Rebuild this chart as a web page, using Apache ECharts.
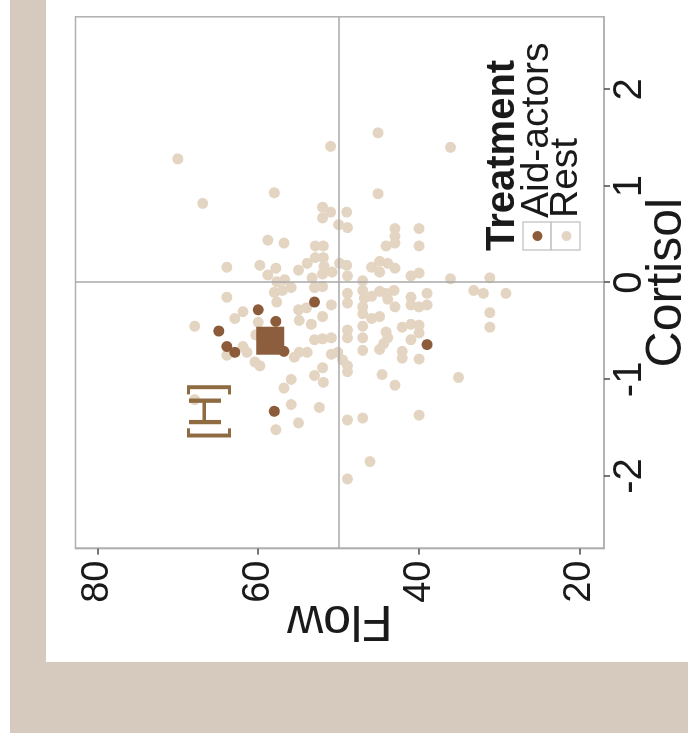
<!DOCTYPE html>
<html>
<head>
<meta charset="utf-8">
<script src="https://cdn.jsdelivr.net/npm/echarts@6/dist/echarts.min.js"></script>
<style>
  html, body { margin: 0; padding: 0; width: 688px; height: 751px; overflow: hidden; background: #ffffff; position: relative; }
  #frame { position: absolute; left: 10px; top: 0; width: 678px; height: 733px; background: #D6C9BE; }
  #panel { position: absolute; left: 46px; top: 0; width: 642px; height: 662px; background: #ffffff; }
  /* the figure is laid out upright, then turned a quarter turn counter-clockwise */
  #chart { position: absolute; left: 0; top: 0; width: 751px; height: 688px;
           transform-origin: 0 0; transform: translate(0px, 751px) rotate(-90deg); }
</style>
</head>
<body>
<div id="frame"></div>
<div id="panel"></div>
<div id="chart"></div>
<script>
// tick labels
const cortisolTicks = [-2, -1, 0, 1, 2];
const flowTicks = [20, 40, 60, 80];

// participants at rest
const restCortisol = [1.28,0.82,0.93,1.41,1.55,1.40,0.92,0.78,0.73,0.67,0.73,0.60,0.57,0.56,0.48,0.56,0.44,0.41,0.38,0.38,0.38,0.41,0.38,0.16,0.18,0.15,0.08,0.13,0.20,0.26,0.26,0.09,0.05,0.11,0.20,0.18,0.07,0.16,0.22,0.20,0.11,0.15,0.02,0.07,0.10,0.04,0.05,0.17,0.01,0.03,-0.10,-0.08,-0.05,-0.05,-0.04,-0.11,-0.08,-0.16,-0.14,-0.09,-0.11,-0.17,-0.08,-0.15,-0.20,-0.25,-0.15,-0.23,-0.25,-0.23,-0.11,-0.08,-0.11,-0.11,-0.31,-0.46,-0.25,-0.32,-0.37,-0.35,-0.30,-0.37,-0.41,-0.28,-0.26,-0.39,-0.43,-0.35,-0.23,-0.21,-0.45,-0.59,-0.58,-0.57,-0.49,-0.57,-0.45,-0.57,-0.70,-0.51,-0.57,-0.63,-0.69,-0.46,-0.43,-0.44,-0.52,-0.59,-0.71,-0.78,-0.79,-0.77,-0.72,-0.72,-0.74,-0.75,-0.66,-0.72,-0.82,-0.86,-0.72,-0.80,-0.86,-0.92,-0.88,-0.96,-1.03,-1.00,-1.09,-0.95,-1.06,-0.98,-1.26,-1.29,-1.45,-1.52,-1.42,-1.40,-1.37,-1.85,-2.03,-1.21,-0.54];
const restFlow = [70.0,66.9,58.0,51.0,45.1,36.1,45.1,52.0,51.0,52.0,49.0,50.0,48.9,43.0,43.0,40.0,58.8,56.8,52.9,51.9,44.1,43.0,40.0,63.9,59.8,57.8,58.8,55.0,53.9,52.9,51.9,52.0,53.3,50.8,49.9,49.0,48.9,45.9,44.9,43.9,44.9,43.0,47.0,41.0,40.0,36.1,31.2,51.8,57.7,56.7,58.0,57.0,55.9,53.0,52.0,48.9,47.0,46.8,45.9,44.9,44.1,43.9,43.1,63.9,57.7,43.0,41.0,41.0,40.0,39.0,39.0,33.2,32.0,29.2,31.2,31.2,47.0,47.0,45.9,44.9,61.9,62.9,60.0,55.0,54.0,54.9,53.4,52.0,50.9,48.9,67.9,53.0,52.0,50.9,48.9,48.9,47.0,47.0,47.0,44.1,43.9,44.4,44.9,42.1,41.0,40.0,40.0,41.0,42.1,42.1,40.0,55.5,54.9,53.9,50.9,63.9,61.9,61.4,60.4,59.8,50.1,49.5,48.9,48.9,52.0,53.0,51.9,55.9,56.8,44.6,43.0,35.1,55.9,52.4,55.0,57.8,48.9,47.0,40.0,46.1,48.9,67.9,60.3];

// aid-actors
const aidCortisol = [-0.28,-0.40,-0.20,-0.50,-0.66,-0.72,-0.71,-0.64,-1.33];
const aidFlow = [60.0,57.8,53.0,64.9,63.9,62.9,56.8,39.0,58.0];

// aid-actor group centre
const aidCentre = [-0.60, 58.5];

// hypothesis marker
const noteText = '[H]';
const notePos = [-1.33, 66.2];

const zip = (a, b) => a.map((v, i) => [v, b[i]]);

const FONT = '"Liberation Sans", Arial, Helvetica, sans-serif';
const INK = '#1a1a1a';
const FRAME = '#B0B0B0';
const TICK = '#4a4a4a';

const chart = echarts.init(document.getElementById('chart'), null, { renderer: 'canvas' });

chart.setOption({
  backgroundColor: 'transparent',
  animation: false,
  title: {
    text: 'Treatment', left: 500, top: 483, padding: 0,
    textStyle: { fontFamily: FONT, fontSize: 40, fontWeight: 'bold', color: INK }
  },
  legend: {
    orient: 'vertical', left: 510, top: 518, padding: 0,
    itemWidth: 10, itemHeight: 10, itemGap: -10, icon: 'circle',
    selectedMode: false,
    data: ['Aid-actors', 'Rest'],
    textStyle: { fontFamily: FONT, fontSize: 39, lineHeight: 29, color: INK, padding: [0, 0, 0, 8] }
  },
  graphic: [
    { type: 'rect', shape: { x: 501, y: 523, width: 28, height: 28 }, style: { fill: null, stroke: '#CACACA', lineWidth: 1.5 }, z: 0 },
    { type: 'rect', shape: { x: 501, y: 551, width: 28, height: 29 }, style: { fill: null, stroke: '#CACACA', lineWidth: 1.5 }, z: 0 }
  ],
  grid: {
    left: 202.4, right: 16.8, top: 75.6, bottom: 84,
    show: true, borderColor: FRAME, borderWidth: 1.5,
    containLabel: false, outerBoundsMode: 'none'
  },
  xAxis: {
    type: 'value', min: -2.75, max: 2.75,
    name: 'Cortisol', nameLocation: 'middle', nameGap: 38, nameMoveOverlap: false,
    nameTextStyle: { fontFamily: FONT, fontSize: 50, color: INK },
    axisLine: { show: true, onZero: false, lineStyle: { color: FRAME, width: 1.5 } },
    axisTick: { show: true, length: 6, customValues: cortisolTicks, lineStyle: { color: TICK, width: 1.5 } },
    axisLabel: { customValues: cortisolTicks, margin: 6, fontFamily: FONT, fontSize: 40, color: INK },
    splitLine: { show: false }
  },
  yAxis: {
    type: 'value', min: 17, max: 82.7,
    name: 'Flow', nameLocation: 'middle', nameGap: 46, nameMoveOverlap: false,
    nameTextStyle: { fontFamily: FONT, fontSize: 50, color: INK },
    axisLine: { show: true, onZero: false, lineStyle: { color: FRAME, width: 1.5 } },
    axisTick: { show: true, length: 6, customValues: flowTicks, lineStyle: { color: TICK, width: 1.5 } },
    axisLabel: { customValues: flowTicks, margin: 12, fontFamily: FONT, fontSize: 38, color: INK },
    splitLine: { show: false }
  },
  series: [
    {
      name: 'Rest', type: 'scatter', z: 2,
      symbol: 'circle', symbolSize: 11,
      itemStyle: { color: '#E3D5C2', opacity: 1 },
      data: zip(restCortisol, restFlow),
      markLine: {
        silent: true, symbol: 'none', animation: false,
        label: { show: false },
        lineStyle: { color: '#A9A9A9', width: 1.5, type: 'solid' },
        data: [{ xAxis: 0 }, { yAxis: 50 }]
      }
    },
    {
      name: 'Aid-actors', type: 'scatter', z: 3,
      symbol: 'circle', symbolSize: 11,
      itemStyle: { color: '#8B5B3A', opacity: 1 },
      data: zip(aidCortisol, aidFlow)
    },
    {
      name: 'Aid-actors centre', type: 'scatter', z: 4,
      symbol: 'rect', symbolSize: 28,
      itemStyle: { color: '#8C5E3E', opacity: 1 },
      data: [aidCentre]
    },
    {
      name: 'note', type: 'scatter', z: 4, silent: true,
      symbol: 'circle', symbolSize: 1,
      itemStyle: { color: '#ffffff', opacity: 1 },
      label: {
        show: true, position: 'inside', formatter: noteText,
        fontFamily: FONT, fontSize: 46, color: '#8F6B42',
        opacity: 1, textBorderWidth: 0
      },
      data: [notePos]
    }
  ]
});
</script>
</body>
</html>
